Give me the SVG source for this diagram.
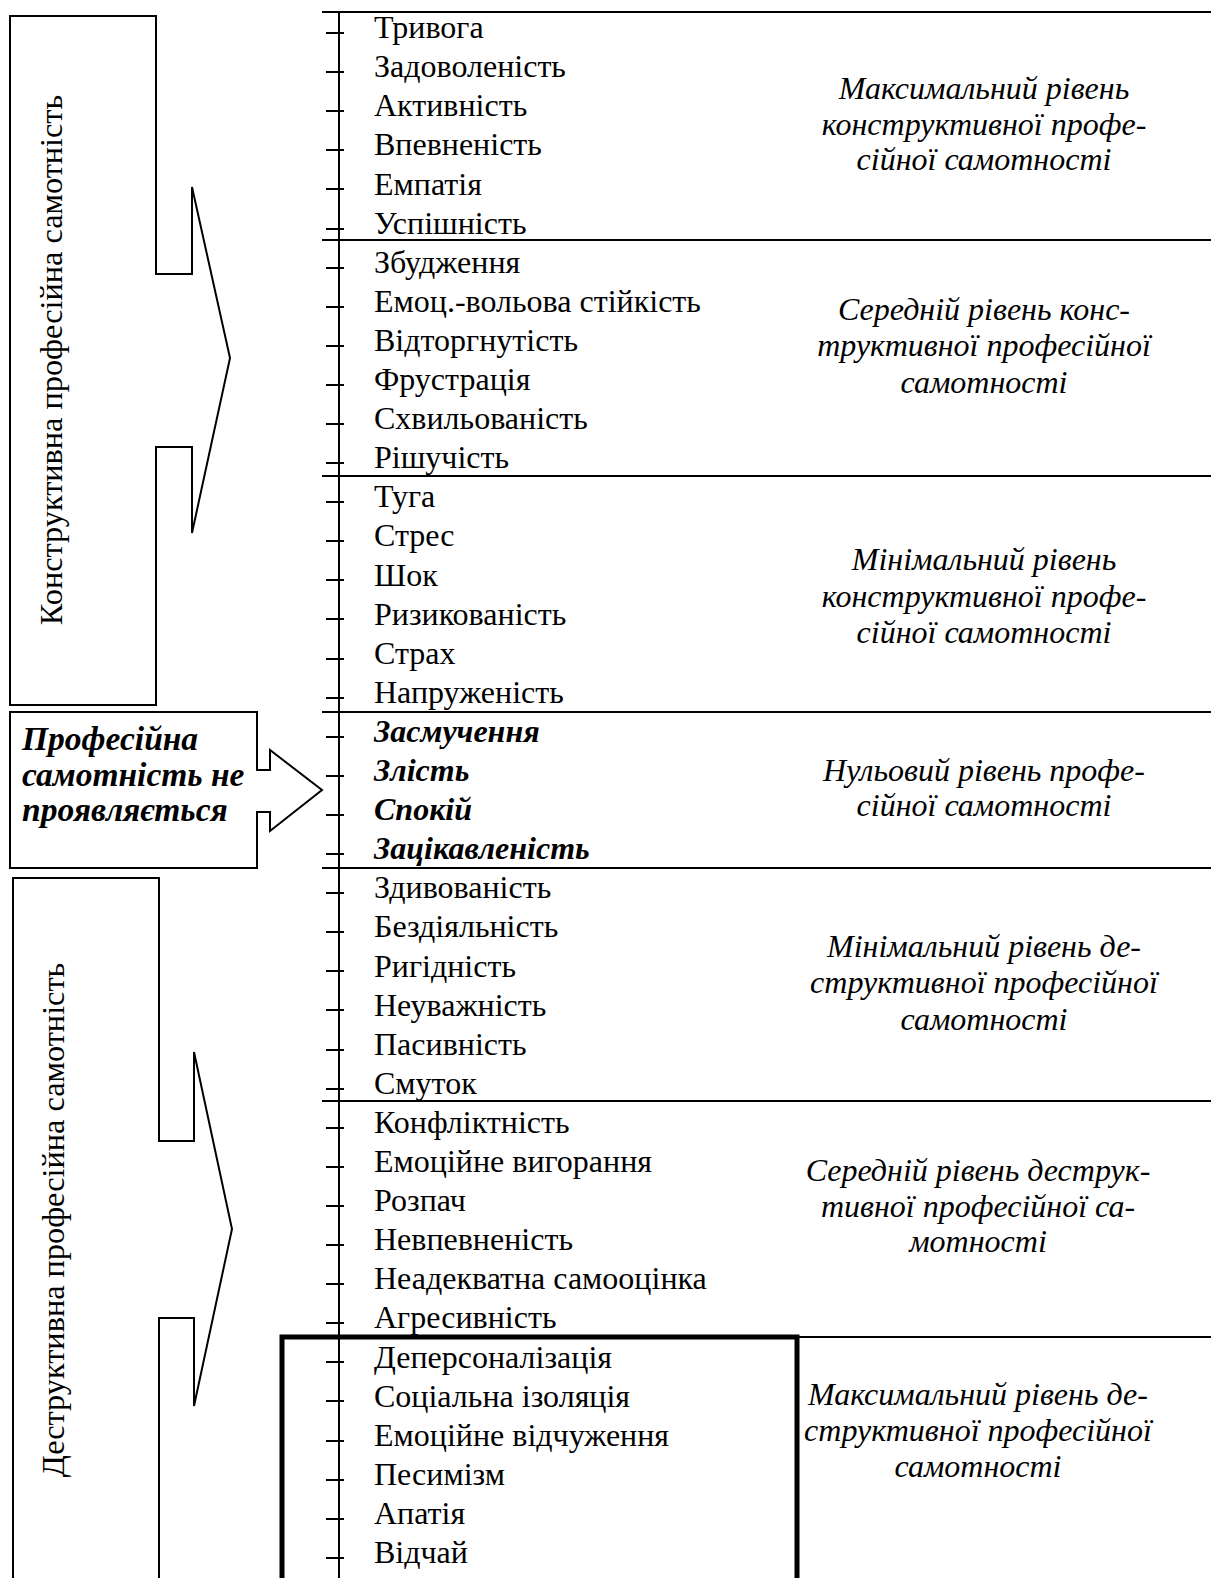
<svg xmlns="http://www.w3.org/2000/svg" width="1211" height="1578" viewBox="0 0 1211 1578">
<style>
.ln{stroke:#000;stroke-width:2;fill:none}
.shape{stroke:#000;stroke-width:2;fill:#fff}
.it{font-family:"Liberation Serif","Times New Roman",serif;font-size:32px;fill:#000}
.bi{font-family:"Liberation Serif","Times New Roman",serif;font-size:32px;font-weight:bold;font-style:italic;fill:#000}
.lv{font-family:"Liberation Serif","Times New Roman",serif;font-size:32px;font-style:italic;fill:#000;text-anchor:middle}
.vl{font-family:"Liberation Serif","Times New Roman",serif;font-size:32.3px;fill:#000;text-anchor:middle}
.ml{font-family:"Liberation Serif","Times New Roman",serif;font-size:33.5px;font-weight:bold;font-style:italic;fill:#000}
</style>
<rect width="1211" height="1578" fill="#fff"/>

<g id="constructive">
<polygon class="shape" points="10,16 156,16 156,274 192,274 192,187 230,358 192,533 192,447 156,447 156,705 10,705"/>
<text class="vl" transform="rotate(-90 62 360)" x="62" y="360">Конструктивна професійна самотність</text>
</g>

<g id="none">
<polygon class="shape" points="10,712 257,712 257,770 270,770 270,750 322,790 270,831 270,812 257,812 257,868 10,868"/>
<text class="ml" x="22" y="750">Професійна</text>
<text class="ml" x="22" y="786">самотність не</text>
<text class="ml" x="22" y="821">проявляється</text>
</g>

<g id="destructive">
<polyline class="shape" points="13,1580 13,878 159,878 159,1141 194,1141 194,1052 232,1229 194,1406 194,1318 159,1318 159,1580"/>
<text class="vl" transform="rotate(-90 64 1220)" x="64" y="1220">Деструктивна професійна самотність</text>
</g>

<g id="connectors">
<line class="ln" x1="339" y1="12" x2="339" y2="1578"/>
<line class="ln" x1="322" y1="12" x2="1211" y2="12"/>
<line class="ln" x1="322" y1="240" x2="1211" y2="240"/>
<line class="ln" x1="322" y1="476" x2="1211" y2="476"/>
<line class="ln" x1="322" y1="712" x2="1211" y2="712"/>
<line class="ln" x1="322" y1="868" x2="1211" y2="868"/>
<line class="ln" x1="322" y1="1101" x2="1211" y2="1101"/>
<line class="ln" x1="322" y1="1337" x2="1211" y2="1337"/>
<path class="ln" d="M326 33h18M326 72h18M326 111h18M326 150h18M326 189h18M326 229h18M326 268h18M326 307h18M326 346h18M326 385h18M326 424h18M326 463h18M326 502h18M326 541h18M326 580h18M326 619h18M326 659h18M326 698h18M326 737h18M326 776h18M326 815h18M326 854h18M326 893h18M326 932h18M326 971h18M326 1010h18M326 1050h18M326 1089h18M326 1128h18M326 1167h18M326 1206h18M326 1245h18M326 1284h18M326 1323h18M326 1362h18M326 1401h18M326 1441h18M326 1480h18M326 1519h18M326 1558h18"/>
</g>

<g id="highlight">
<polyline points="282,1580 282,1337 797,1337 797,1580" fill="none" stroke="#000" stroke-width="5"/>
</g>

<g id="items">
<text class="it" x="374" y="38">Тривога</text>
<text class="it" x="374" y="77">Задоволеність</text>
<text class="it" x="374" y="116">Активність</text>
<text class="it" x="374" y="155">Впевненість</text>
<text class="it" x="374" y="195">Емпатія</text>
<text class="it" x="374" y="234">Успішність</text>
<text class="it" x="374" y="273">Збудження</text>
<text class="it" x="374" y="312">Емоц.-вольова стійкість</text>
<text class="it" x="374" y="351">Відторгнутість</text>
<text class="it" x="374" y="390">Фрустрація</text>
<text class="it" x="374" y="429">Схвильованість</text>
<text class="it" x="374" y="468">Рішучість</text>
<text class="it" x="374" y="507">Туга</text>
<text class="it" x="374" y="546">Стрес</text>
<text class="it" x="374" y="586">Шок</text>
<text class="it" x="374" y="625">Ризикованість</text>
<text class="it" x="374" y="664">Страх</text>
<text class="it" x="374" y="703">Напруженість</text>
<text class="bi" x="374" y="742">Засмучення</text>
<text class="bi" x="374" y="781">Злість</text>
<text class="bi" x="374" y="820">Спокій</text>
<text class="bi" x="374" y="859">Зацікавленість</text>
<text class="it" x="374" y="898">Здивованість</text>
<text class="it" x="374" y="937">Бездіяльність</text>
<text class="it" x="374" y="977">Ригідність</text>
<text class="it" x="374" y="1016">Неуважність</text>
<text class="it" x="374" y="1055">Пасивність</text>
<text class="it" x="374" y="1094">Смуток</text>
<text class="it" x="374" y="1133">Конфліктність</text>
<text class="it" x="374" y="1172">Емоційне вигорання</text>
<text class="it" x="374" y="1211">Розпач</text>
<text class="it" x="374" y="1250">Невпевненість</text>
<text class="it" x="374" y="1289">Неадекватна самооцінка</text>
<text class="it" x="374" y="1328">Агресивність</text>
<text class="it" x="374" y="1368">Деперсоналізація</text>
<text class="it" x="374" y="1407">Соціальна ізоляція</text>
<text class="it" x="374" y="1446">Емоційне відчуження</text>
<text class="it" x="374" y="1485">Песимізм</text>
<text class="it" x="374" y="1524">Апатія</text>
<text class="it" x="374" y="1563">Відчай</text>
</g>

<g id="levels">
<text class="lv" x="984" y="99">Максимальний рівень</text>
<text class="lv" x="984" y="135">конструктивної профе-</text>
<text class="lv" x="984" y="170">сійної самотності</text>
<text class="lv" x="984" y="320">Середній рівень конс-</text>
<text class="lv" x="984" y="356">труктивної професійної</text>
<text class="lv" x="984" y="393">самотності</text>
<text class="lv" x="984" y="570">Мінімальний рівень</text>
<text class="lv" x="984" y="607">конструктивної профе-</text>
<text class="lv" x="984" y="643">сійної самотності</text>
<text class="lv" x="984" y="781">Нульовий рівень профе-</text>
<text class="lv" x="984" y="816">сійної самотності</text>
<text class="lv" x="984" y="957">Мінімальний рівень де-</text>
<text class="lv" x="984" y="993">структивної професійної</text>
<text class="lv" x="984" y="1030">самотності</text>
<text class="lv" x="978" y="1181">Середній рівень деструк-</text>
<text class="lv" x="978" y="1217">тивної професійної са-</text>
<text class="lv" x="978" y="1252">мотності</text>
<text class="lv" x="978" y="1405">Максимальний рівень де-</text>
<text class="lv" x="978" y="1441">структивної професійної</text>
<text class="lv" x="978" y="1477">самотності</text>
</g>
</svg>
